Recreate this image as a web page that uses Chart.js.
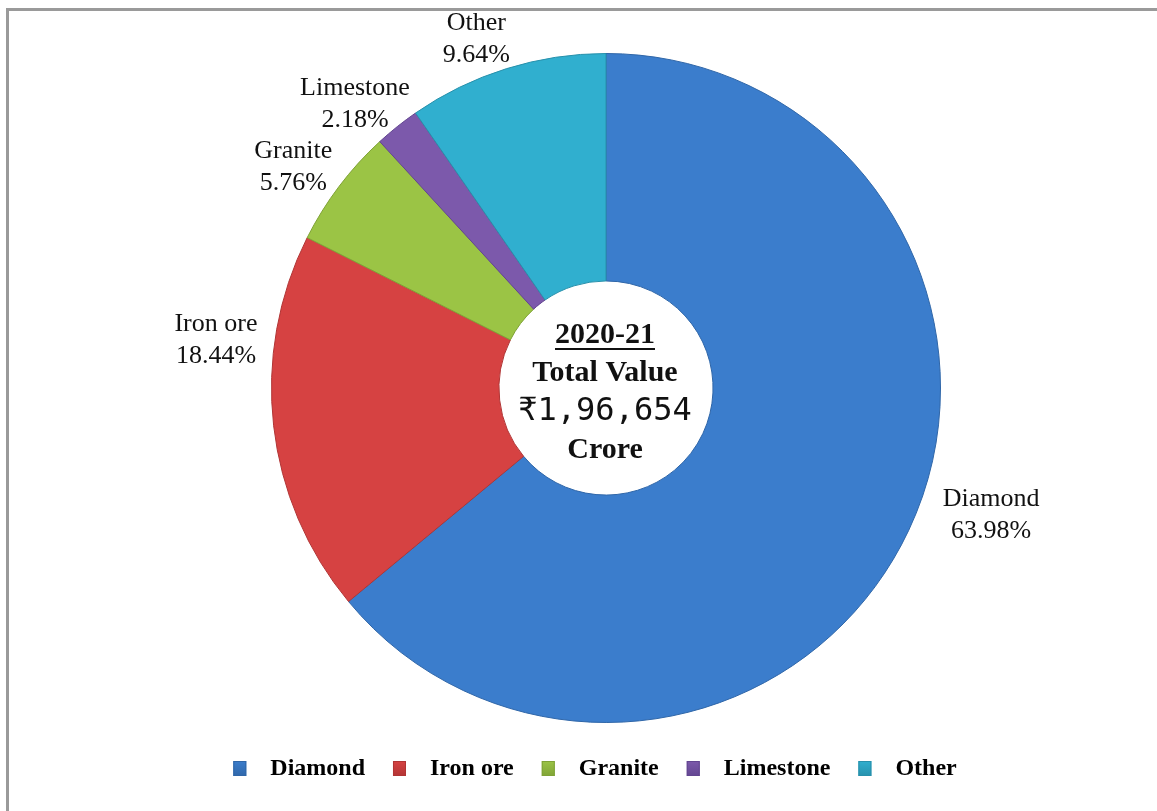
<!DOCTYPE html>
<html>
<head>
<meta charset="utf-8">
<script src="https://cdn.jsdelivr.net/npm/chart.js@4/dist/chart.umd.min.js"></script>
<style>
    html, body { margin: 0; padding: 0; background: #fff; }
    #wrap { position: relative; width: 1157px; height: 811px; overflow: hidden; }
    #frame { position: absolute; left: 6px; top: 8px; width: 1200px; height: 900px;
        border-top: 3px solid #9a9a9a; border-left: 3px solid #9a9a9a; }
    canvas { position: absolute; left: 0; top: 0; }
</style>
</head>
<body>
<div id="wrap">
    <div id="frame"></div>
    <canvas id="myChart" width="1157" height="811"></canvas>
</div>
<script>
const minerals = ['Diamond', 'Iron ore', 'Granite', 'Limestone', 'Other'];
const shares = [63.98, 18.44, 5.76, 2.18, 9.64];
const centerLines = ['2020-21', 'Total Value', '\u20B91,96,654', 'Crore'];

const fills = ['#3b7dcc', '#d64242', '#9bc445', '#7c59ab', '#30afcf'];
const edges = ['#2f66a8', '#b03434', '#7fa236', '#624590', '#2790ab'];
// small nudges so the outside labels sit where the original put them
const labelNudge = [[37, -37], [-8, -92], [-6, 10], [-11, 16], [-15, 17]];

const sliceLabels = {
    id: 'sliceLabels',
    afterDatasetsDraw(chart) {
        const ctx = chart.ctx;
        const arcs = chart.getDatasetMeta(0).data;
        ctx.save();
        ctx.fillStyle = '#111';
        ctx.font = '26px "Liberation Serif"';
        ctx.textAlign = 'center';
        ctx.textBaseline = 'middle';
        arcs.forEach((arc, i) => {
            const p = arc.getProps(['x', 'y', 'startAngle', 'endAngle', 'outerRadius'], true);
            const mid = (p.startAngle + p.endAngle) / 2;
            const cx = p.x + Math.cos(mid) * (p.outerRadius + 50) + labelNudge[i][0];
            const cy = p.y + Math.sin(mid) * (p.outerRadius + 50) + labelNudge[i][1];
            ctx.fillText(minerals[i], cx, cy - 15);
            ctx.fillText(shares[i].toFixed(2) + '%', cx, cy + 17);
        });

        // centre text inside the hole
        const c = arcs[0].getProps(['x', 'y'], true);
        const x = c.x - 1;
        ctx.textBaseline = 'alphabetic';
        ctx.font = 'bold 30px "Liberation Serif"';
        ctx.fillText(centerLines[0], x, c.y - 45);
        const w = ctx.measureText(centerLines[0]).width;
        ctx.fillRect(x - w / 2, c.y - 40, w, 2);
        ctx.fillText(centerLines[1], x, c.y - 7);
        ctx.font = '32px "DejaVu Sans Mono"';
        ctx.fillText(centerLines[2], x, c.y + 32);
        ctx.font = 'bold 30px "Liberation Serif"';
        ctx.fillText(centerLines[3], x, c.y + 70);
        ctx.restore();
    }
};

const bottomLegend = {
    id: 'bottomLegend',
    afterDraw(chart) {
        const ctx = chart.ctx;
        ctx.save();
        ctx.font = 'bold 24px "Liberation Serif"';
        ctx.textBaseline = 'middle';
        ctx.textAlign = 'left';
        const box = 13, toText = 24, toNext = 28;
        let total = 0;
        minerals.forEach((m, i) => {
            total += box + toText + ctx.measureText(m).width;
            if (i < minerals.length - 1) total += toNext;
        });
        let x = 595 - total / 2;
        const y = 769;
        minerals.forEach((m, i) => {
            const g = ctx.createLinearGradient(x, y - 8, x, y + 8);
            g.addColorStop(0, fills[i]);
            g.addColorStop(1, edges[i]);
            ctx.fillStyle = g;
            ctx.fillRect(x, y - 8, box, 15);
            ctx.strokeStyle = edges[i];
            ctx.lineWidth = 1;
            ctx.strokeRect(x + 0.5, y - 7.5, box - 1, 14);
            x += box + toText;
            ctx.fillStyle = '#000';
            ctx.fillText(m, x, y);
            x += ctx.measureText(m).width + toNext;
        });
        ctx.restore();
    }
};

const ctx = document.getElementById('myChart').getContext('2d');
new Chart(ctx, {
    type: 'doughnut',
    data: {
        labels: minerals,
        datasets: [{
            data: shares,
            backgroundColor: fills,
            borderColor: edges,
            borderWidth: 1,
            hoverOffset: 0
        }]
    },
    options: {
        responsive: false,
        animation: false,
        cutout: '32%',
        layout: { padding: { top: 53, bottom: 88, left: 55, right: 0 } },
        plugins: {
            legend: { display: false },
            tooltip: { enabled: false }
        }
    },
    plugins: [sliceLabels, bottomLegend]
});
</script>
</body>
</html>
